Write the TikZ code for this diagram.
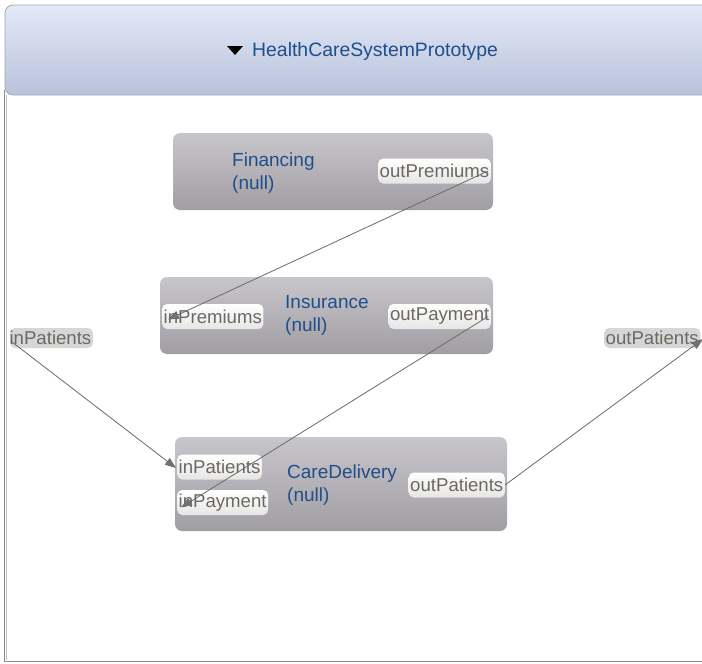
\documentclass[tikz,border=0pt]{standalone}
\usepackage{fontspec}
\setmainfont{Liberation Sans}
\usetikzlibrary{arrows.meta}
\definecolor{titleblue}{HTML}{1F4E8C}
\definecolor{porttext}{HTML}{6E6862}
\definecolor{wire}{HTML}{6A6A6A}
\definecolor{headtop}{RGB}{228,233,248}
\definecolor{headbot}{RGB}{184,194,218}
\definecolor{headline}{RGB}{160,168,188}
\definecolor{blocktop}{RGB}{200,198,202}
\definecolor{blockbot}{RGB}{160,158,162}
\tikzset{
  every node/.style={font=\fontsize{19}{23}\selectfont},
  block/.style={draw=none, rounded corners=7pt, top color=blocktop, bottom color=blockbot},
  blocklabel/.style={text=titleblue, align=left, anchor=west, inner sep=0pt},
  port/.style={rounded corners=5pt, top color=white, bottom color=black!10, text=porttext,
    font=\fontsize{18.6}{22}\selectfont, inner xsep=1.5pt, inner ysep=2pt, minimum height=25pt},
  extport/.style={rounded corners=5pt, fill=black!16, text=porttext,
    font=\fontsize{18.6}{22}\selectfont, inner xsep=1.5pt, inner ysep=1pt, minimum height=20pt},
  wireline/.style={draw=wire, line width=0.8pt, -{Triangle[length=11pt,width=8pt,fill=black!55]}}
}
\begin{document}
\begin{tikzpicture}[x=1pt,y=-1pt]
\useasboundingbox (0,0) rectangle (702,664);
\begin{scope}
\clip (0,0) rectangle (702,664);
% canvas frame
\fill[white] (0,0) rectangle (702,664);
\draw[black!45, line width=1pt] (4.5,90) -- (4.5,661.5) -- (710,661.5);
\draw[black!25, line width=1pt] (6.5,95) -- (6.5,660);
% header bar
\shade[top color=headtop, bottom color=headbot, rounded corners=8pt] (5,5) rectangle (720,95);
\draw[headline, line width=0.8pt, rounded corners=8pt] (720,95) -- (5,95) -- (5,5) -- (720,5);
\fill[black] (227,46) -- (243,46) -- (235,55) -- cycle;
\node[text=titleblue, anchor=west, inner sep=0pt, font=\fontsize{19.4}{23}\selectfont] (title) at (252,51) {HealthCareSystemPrototype};

% blocks
\path[block] (173,133) rectangle (493,210);
\node[blocklabel] (fin) at (232,173) {Financing\\(null)};
\node[port, anchor=east] (outPrem) at (491,171) {outPremiums};

\path[block] (160,277) rectangle (493,354);
\node[blocklabel] (ins) at (285,315) {Insurance\\(null)};
\node[port, anchor=west] (inPrem) at (162,316.5) {inPremiums};
\node[port, anchor=east] (outPay) at (491,316.5) {outPayment};

\path[block] (175,437) rectangle (507,531);
\node[blocklabel] (care) at (287,485) {CareDelivery\\(null)};
\node[port, anchor=west] (inPat) at (177,467) {inPatients};
\node[port, anchor=west] (inPay) at (177,502.5) {inPayment};
\node[port, anchor=east] (outPat) at (505,485) {outPatients};

% boundary ports
\node[extport, anchor=east] (extIn) at (93,338) {\hspace{-2pt}inPatients};
\node[extport, anchor=west] (extOut) at (604,338) {outPatients\hspace{20pt}};
\coordinate (extInEnd) at (12,342);
\coordinate (extOutEnd) at (703,339);

% connections
\draw[wireline] ([xshift=-3pt]outPrem.east) -- ([xshift=6pt,yshift=-3pt]inPrem.west);
\draw[wireline] ([xshift=-3pt]outPay.east) -- ([xshift=4pt,yshift=-5pt]inPay.west);
\draw[wireline] (extInEnd) -- ([xshift=-1pt,yshift=-1pt]inPat.west);
\draw[wireline] (outPat.east) -- (extOutEnd);
\end{scope}
\end{tikzpicture}
\end{document}
